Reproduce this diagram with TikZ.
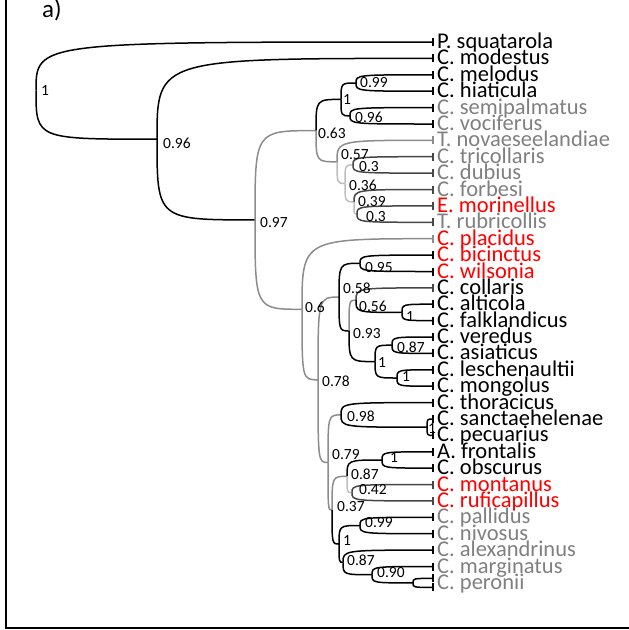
\documentclass[tikz,border=0pt]{standalone}
\usepackage{fontspec}
\setmainfont{Carlito}
\definecolor{taxgray}{RGB}{128,128,128}
\definecolor{taxred}{RGB}{255,0,0}
\definecolor{brgray}{RGB}{140,140,140}
\definecolor{brlight}{RGB}{190,190,190}
\definecolor{brdark}{RGB}{70,70,70}
\usetikzlibrary{calc}
% curved elbow from a parent to a child
\newcommand{\branch}[3][black]{\draw[edge, #1] (#2) .. controls (#2|-#3) and (#2|-#3) .. (#3);}
% same, ending in a tip tick
\newcommand{\twig}[3][black]{\branch[#1]{#2}{#3}\draw[tick, #1] ([yshift=4pt]#3) -- ([yshift=-4pt]#3);}

\begin{document}
\begin{tikzpicture}[x=1pt, y=-1pt,
  taxon/.style={anchor=base west, inner sep=0pt, font=\fontsize{22.5}{22.5}\selectfont},
  support/.style={anchor=west, inner sep=0pt, font=\fontsize{15.5}{15.5}\selectfont},
  edge/.style={line width=1.5pt},
  tick/.style={line width=1.2pt},
  frame/.style={line width=2.4pt}
]
  \useasboundingbox (0,0) rectangle (629,630);

  % panel frame and letter
  \draw[frame] (6.2,0) -- (6.2,627.8) -- (629,627.8);
  \node[anchor=base west, inner sep=0pt, font=\fontsize{25}{25}\selectfont] (panel) at (42,17.5) {a)};

  % tips
  \coordinate (t1) at (433, 42.0);
  \coordinate (t2) at (433, 58.4);
  \coordinate (t3) at (433, 74.8);
  \coordinate (t4) at (433, 91.2);
  \coordinate (t5) at (433, 107.6);
  \coordinate (t6) at (433, 124.0);
  \coordinate (t7) at (433, 140.3);
  \coordinate (t8) at (433, 156.7);
  \coordinate (t9) at (433, 173.1);
  \coordinate (t10) at (433, 189.5);
  \coordinate (t11) at (433, 205.9);
  \coordinate (t12) at (433, 222.3);
  \coordinate (t13) at (433, 238.7);
  \coordinate (t14) at (433, 255.1);
  \coordinate (t15) at (433, 271.5);
  \coordinate (t16) at (433, 287.9);
  \coordinate (t17) at (433, 304.2);
  \coordinate (t18) at (433, 320.6);
  \coordinate (t19) at (433, 337.0);
  \coordinate (t20) at (433, 353.4);
  \coordinate (t21) at (433, 369.8);
  \coordinate (t22) at (433, 386.2);
  \coordinate (t23) at (433, 402.6);
  \coordinate (t24) at (433, 419.0);
  \coordinate (t25) at (433, 435.4);
  \coordinate (t26) at (433, 451.8);
  \coordinate (t27) at (433, 468.1);
  \coordinate (t28) at (433, 484.5);
  \coordinate (t29) at (433, 500.9);
  \coordinate (t30) at (433, 517.3);
  \coordinate (t31) at (433, 533.7);
  \coordinate (t32) at (433, 550.1);
  \coordinate (t33) at (433, 566.5);
  \coordinate (t34) at (433, 582.9);
  \coordinate (t34a) at (433, 578.4);
  \coordinate (t34b) at (433, 587.4);

  \node[taxon] (s1) at ([xshift=4pt,yshift=-6.5pt]t1) {P. squatarola};
  \node[taxon] (s2) at ([xshift=4pt,yshift=-6.5pt]t2) {C. modestus};
  \node[taxon] (s3) at ([xshift=4pt,yshift=-6.5pt]t3) {C. melodus};
  \node[taxon] (s4) at ([xshift=4pt,yshift=-6.5pt]t4) {C. hiaticula};
  \node[taxon, taxgray] (s5) at ([xshift=4pt,yshift=-6.5pt]t5) {C. semipalmatus};
  \node[taxon, taxgray] (s6) at ([xshift=4pt,yshift=-6.5pt]t6) {C. vociferus};
  \node[taxon, taxgray] (s7) at ([xshift=4pt,yshift=-6.5pt]t7) {T. novaeseelandiae};
  \node[taxon, taxgray] (s8) at ([xshift=4pt,yshift=-6.5pt]t8) {C. tricollaris};
  \node[taxon, taxgray] (s9) at ([xshift=4pt,yshift=-6.5pt]t9) {C. dubius};
  \node[taxon, taxgray] (s10) at ([xshift=4pt,yshift=-6.5pt]t10) {C. forbesi};
  \node[taxon, taxred] (s11) at ([xshift=4pt,yshift=-6.5pt]t11) {E. morinellus};
  \node[taxon, taxgray] (s12) at ([xshift=4pt,yshift=-6.5pt]t12) {T. rubricollis};
  \node[taxon, taxred] (s13) at ([xshift=4pt,yshift=-6.5pt]t13) {C. placidus};
  \node[taxon, taxred] (s14) at ([xshift=4pt,yshift=-6.5pt]t14) {C. bicinctus};
  \node[taxon, taxred] (s15) at ([xshift=4pt,yshift=-6.5pt]t15) {C. wilsonia};
  \node[taxon] (s16) at ([xshift=4pt,yshift=-6.5pt]t16) {C. collaris};
  \node[taxon] (s17) at ([xshift=4pt,yshift=-6.5pt]t17) {C. alticola};
  \node[taxon] (s18) at ([xshift=4pt,yshift=-6.5pt]t18) {C. falklandicus};
  \node[taxon] (s19) at ([xshift=4pt,yshift=-6.5pt]t19) {C. veredus};
  \node[taxon] (s20) at ([xshift=4pt,yshift=-6.5pt]t20) {C. asiaticus};
  \node[taxon] (s21) at ([xshift=4pt,yshift=-6.5pt]t21) {C. leschenaultii};
  \node[taxon] (s22) at ([xshift=4pt,yshift=-6.5pt]t22) {C. mongolus};
  \node[taxon] (s23) at ([xshift=4pt,yshift=-6.5pt]t23) {C. thoracicus};
  \node[taxon] (s24) at ([xshift=4pt,yshift=-6.5pt]t24) {C. sanctaehelenae};
  \node[taxon] (s25) at ([xshift=4pt,yshift=-6.5pt]t25) {C. pecuarius};
  \node[taxon] (s26) at ([xshift=4pt,yshift=-6.5pt]t26) {A. frontalis};
  \node[taxon] (s27) at ([xshift=4pt,yshift=-6.5pt]t27) {C. obscurus};
  \node[taxon, taxred] (s28) at ([xshift=4pt,yshift=-6.5pt]t28) {C. montanus};
  \node[taxon, taxred] (s29) at ([xshift=4pt,yshift=-6.5pt]t29) {C. ruficapillus};
  \node[taxon, taxgray] (s30) at ([xshift=4pt,yshift=-6.5pt]t30) {C. pallidus};
  \node[taxon, taxgray] (s31) at ([xshift=4pt,yshift=-6.5pt]t31) {C. nivosus};
  \node[taxon, taxgray] (s32) at ([xshift=4pt,yshift=-6.5pt]t32) {C. alexandrinus};
  \node[taxon, taxgray] (s33) at ([xshift=4pt,yshift=-6.5pt]t33) {C. marginatus};
  \node[taxon, taxgray] (s34) at ([xshift=4pt,yshift=-6.5pt]t34) {C. peronii};

  % inner nodes
  \coordinate (root) at (36, 90.6);
  \coordinate (n096a) at (157, 139.2);
  \coordinate (n097) at (255, 219.9);
  \coordinate (n063) at (316, 130.6);
  \coordinate (n1a) at (341, 99.4);
  \coordinate (n099a) at (356, 83.0);
  \coordinate (n096b) at (350, 115.8);
  \coordinate (n057) at (337, 161.8);
  \coordinate (n036) at (345, 183.4);
  \coordinate (n03a) at (353, 164.9);
  \coordinate (n039) at (354, 201.8);
  \coordinate (n03b) at (357, 214.1);
  \coordinate (n06) at (302, 309.3);
  \coordinate (n078) at (318, 379.8);
  \coordinate (n058) at (339, 297.1);
  \coordinate (n095) at (360, 263.3);
  \coordinate (n093) at (349, 330.9);
  \coordinate (n056) at (356, 300.2);
  \coordinate (n1b) at (402, 312.4);
  \coordinate (n1d) at (375, 361.6);
  \coordinate (n087a) at (392, 345.2);
  \coordinate (n1c) at (397, 378.0);
  \coordinate (n079) at (328, 462.5);
  \coordinate (n098) at (341, 414.9);
  \coordinate (n1e) at (427, 427.2);
  \coordinate (n037) at (332, 510.1);
  \coordinate (n087b) at (347, 476.3);
  \coordinate (n1f) at (382, 460.0);
  \coordinate (n042) at (352, 492.7);
  \coordinate (n1g) at (339, 544.0);
  \coordinate (n099b) at (360, 525.5);
  \coordinate (n087c) at (343, 562.4);
  \coordinate (n090) at (372, 574.7);
  \coordinate (pfork) at (413, 582.9);

  % branches
  \twig{root}{t1}
  \branch{root}{n096a}
  \twig{n096a}{t2}
  \branch{n096a}{n097}
  \branch[brgray]{n097}{n063}
  \branch[brgray]{n097}{n06}
  \branch{n063}{n1a}
  \branch[brgray]{n063}{n057}
  \branch{n1a}{n099a}
  \branch{n1a}{n096b}
  \twig{n099a}{t3}
  \twig{n099a}{t4}
  \twig{n096b}{t5}
  \twig{n096b}{t6}
  \twig[brgray]{n057}{t7}
  \branch[brlight]{n057}{n036}
  \branch[brlight]{n036}{n03a}
  \branch[brlight]{n036}{n039}
  \twig[brdark]{n03a}{t8}
  \twig[brdark]{n03a}{t9}
  \twig[brdark]{n039}{t10}
  \branch[brlight]{n039}{n03b}
  \twig[brdark]{n03b}{t11}
  \twig[brdark]{n03b}{t12}
  \twig[brgray]{n06}{t13}
  \branch[brgray]{n06}{n078}
  \branch[brgray]{n078}{n058}
  \branch[brgray]{n078}{n079}
  \branch{n058}{n095}
  \branch{n058}{n093}
  \twig{n095}{t14}
  \twig{n095}{t15}
  \branch[brgray]{n093}{n056}
  \branch{n093}{n1d}
  \twig[brdark]{n056}{t16}
  \branch{n056}{n1b}
  \twig{n1b}{t17}
  \twig{n1b}{t18}
  \branch{n1d}{n087a}
  \branch{n1d}{n1c}
  \twig{n087a}{t19}
  \twig{n087a}{t20}
  \twig{n1c}{t21}
  \twig{n1c}{t22}
  \branch[brgray]{n079}{n098}
  \branch[brgray]{n079}{n037}
  \twig{n098}{t23}
  \branch{n098}{n1e}
  \twig{n1e}{t24}
  \twig{n1e}{t25}
  \branch[brgray]{n037}{n087b}
  \branch{n037}{n1g}
  \branch{n087b}{n1f}
  \branch[brlight]{n087b}{n042}
  \twig{n1f}{t26}
  \twig{n1f}{t27}
  \twig[brdark]{n042}{t28}
  \twig[brdark]{n042}{t29}
  \branch{n1g}{n099b}
  \branch{n1g}{n087c}
  \twig{n099b}{t30}
  \twig{n099b}{t31}
  \twig{n087c}{t32}
  \branch{n087c}{n090}
  \twig{n090}{t33}
  \branch{n090}{pfork}
  \twig{pfork}{t34a}
  \twig{pfork}{t34b}

  % posterior values
  \node[support] (p1) at (41, 91) {1};
  \node[support] (p2) at (163, 143) {0.96};
  \node[support] (p3) at (260, 223) {0.97};
  \node[support] (p4) at (318, 133) {0.63};
  \node[support] (p5) at (343, 100) {1};
  \node[support] (p6) at (360, 83) {0.99};
  \node[support] (p7) at (355, 117) {0.96};
  \node[support] (p8) at (341, 155) {0.57};
  \node[support] (p9) at (359, 167) {0.3};
  \node[support] (p10) at (349, 185) {0.36};
  \node[support] (p11) at (358, 202) {0.39};
  \node[support] (p12) at (366, 217) {0.3};
  \node[support] (p13) at (305, 307) {0.6};
  \node[support] (p14) at (365, 268) {0.95};
  \node[support] (p15) at (343, 288) {0.58};
  \node[support] (p16) at (359, 306) {0.56};
  \node[support] (p17) at (406, 317) {1};
  \node[support] (p18) at (353, 334) {0.93};
  \node[support] (p19) at (397, 347) {0.87};
  \node[support] (p20) at (378, 363) {1};
  \node[support] (p21) at (402, 377) {1};
  \node[support] (p22) at (322, 381) {0.78};
  \node[support] (p23) at (347, 416) {0.98};
  \node[support] (p24) at (428, 429) {1};
  \node[support] (p25) at (332, 455) {0.79};
  \node[support] (p26) at (390, 458) {1};
  \node[support] (p27) at (351, 474) {0.87};
  \node[support] (p28) at (359, 490) {0.42};
  \node[support] (p29) at (337, 507) {0.37};
  \node[support] (p30) at (365, 523) {0.99};
  \node[support] (p31) at (343, 541) {1};
  \node[support] (p32) at (347, 560) {0.87};
  \node[support] (p33) at (377, 573) {0.90};
\end{tikzpicture}
\end{document}
